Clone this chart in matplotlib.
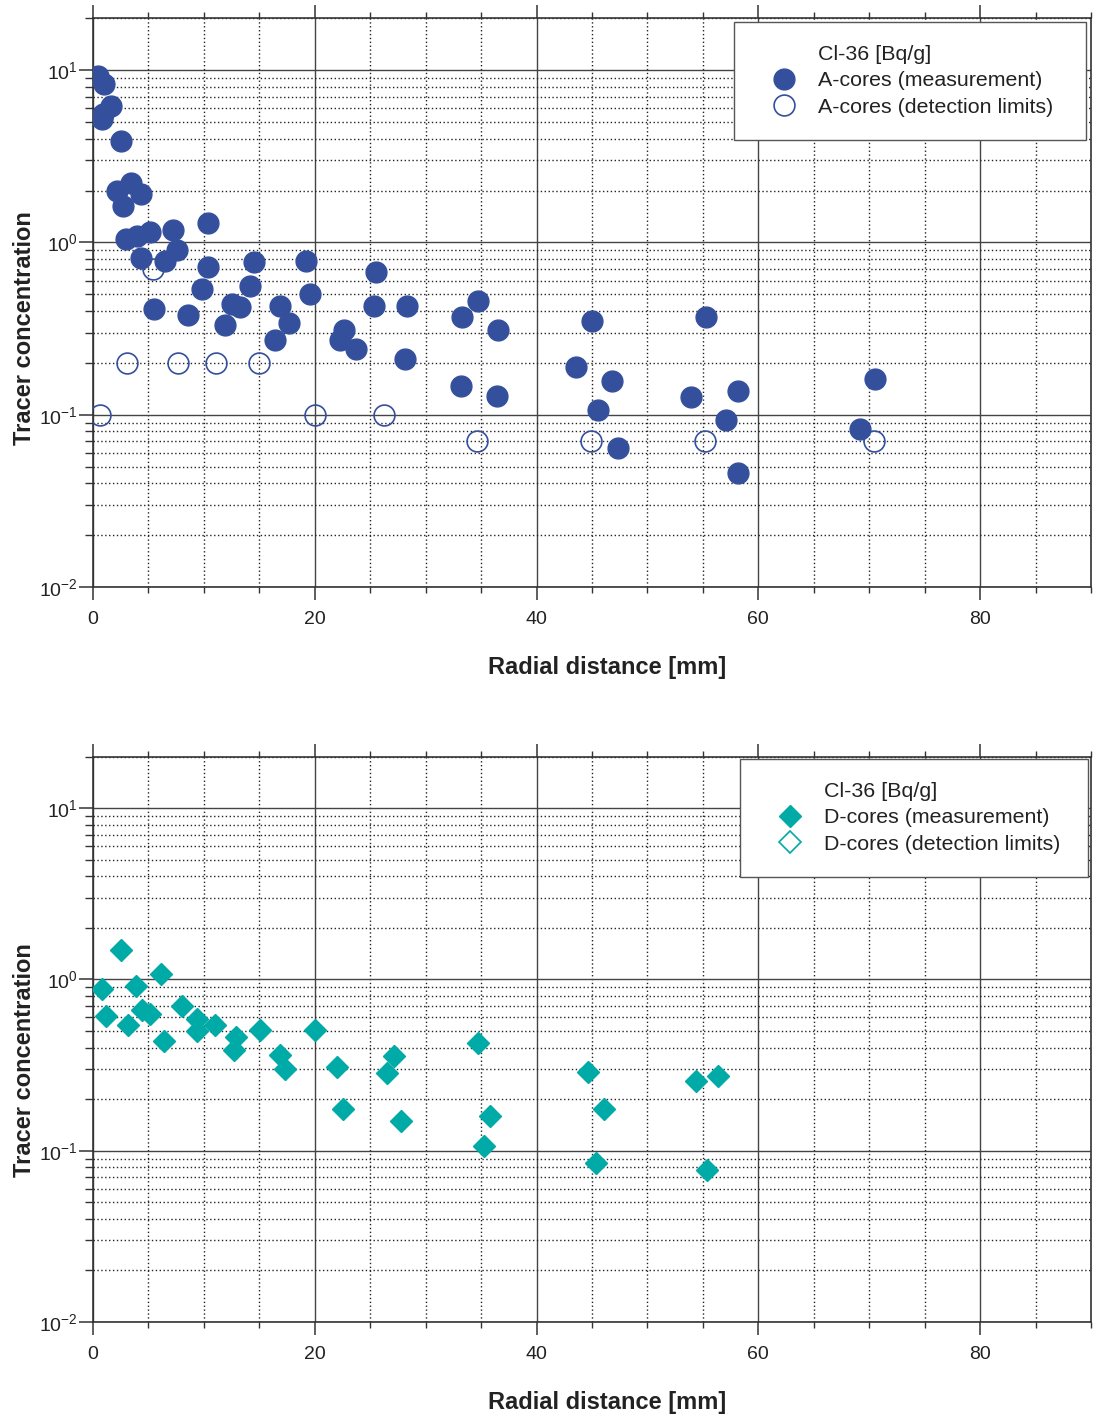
import matplotlib.pyplot as plt
from matplotlib.lines import Line2D
from matplotlib.ticker import MultipleLocator, LogLocator, NullFormatter
import numpy as np

plt.rcParams['font.family'] = ['Liberation Sans', 'DejaVu Sans']
plt.rcParams['mathtext.fontset'] = 'custom'
plt.rcParams['mathtext.rm'] = 'Liberation Sans'
plt.rcParams['mathtext.it'] = 'Liberation Sans:italic'
plt.rcParams['mathtext.bf'] = 'Liberation Sans:bold'

# Cl-36, A-cores: measured values
a_meas_x = [0.45, 1.0, 1.6, 0.9, 0.8, 2.5, 2.2, 3.4, 4.3, 2.7, 3.0, 4.0, 5.1, 7.2,
            10.4, 7.6, 4.3, 6.5, 10.4, 14.5, 19.2, 9.8, 14.2, 19.6, 5.5, 12.5, 13.3,
            8.6, 16.9, 11.9, 17.7, 16.4, 25.5, 25.3, 28.3, 22.6, 22.3, 23.7, 28.1,
            34.7, 33.3, 36.5, 33.2, 36.4, 45.0, 43.6, 46.8, 45.5, 47.3, 55.3, 53.9,
            58.2, 57.1, 58.2, 70.5, 69.2]
a_meas_y = [9.2, 8.3, 6.2, 5.6, 5.2, 3.9, 2.0, 2.2, 1.9, 1.63, 1.05, 1.09, 1.15, 1.18,
            1.30, 0.90, 0.81, 0.78, 0.72, 0.77, 0.78, 0.54, 0.56, 0.50, 0.41, 0.44, 0.42,
            0.38, 0.43, 0.33, 0.34, 0.27, 0.67, 0.43, 0.43, 0.31, 0.27, 0.24, 0.21,
            0.46, 0.37, 0.31, 0.146, 0.129, 0.35, 0.19, 0.156, 0.107, 0.064, 0.37, 0.126,
            0.137, 0.093, 0.046, 0.162, 0.083]

# A-cores: detection limits
a_dl_x = [0.6, 3.1, 5.4, 7.7, 11.1, 15.0, 20.0, 26.2, 34.6, 44.9, 55.2, 70.4]
a_dl_y = [0.1, 0.2, 0.7, 0.2, 0.2, 0.2, 0.1, 0.1, 0.07, 0.07, 0.07, 0.07]

# D-cores: measured values
d_meas_x = [2.5, 6.1, 0.8, 3.9, 1.2, 4.4, 5.1, 3.2, 8.0, 6.4, 9.4, 9.4, 11.0, 15.1,
            20.0, 12.9, 12.7, 16.9, 17.3, 22.0, 22.5, 27.1, 26.5, 27.8, 34.7, 35.8,
            35.3, 44.6, 46.1, 45.4, 54.4, 56.4, 55.4]
d_meas_y = [1.49, 1.07, 0.875, 0.915, 0.61, 0.665, 0.63, 0.545, 0.70, 0.435, 0.585,
            0.50, 0.545, 0.51, 0.51, 0.46, 0.385, 0.36, 0.30, 0.31, 0.176, 0.356,
            0.284, 0.15, 0.425, 0.160, 0.107, 0.288, 0.176, 0.085, 0.254, 0.274, 0.077]

# D-cores: detection limits (none above the measured values)
d_dl_x = []
d_dl_y = []

BLUE = '#34509d'
TEAL = '#00aaa6'
TXT = '#222222'

fig = plt.figure(figsize=(10.93, 14.14), dpi=100)
ax_top = fig.add_axes([0.0851, 0.5849, 0.9131, 0.4021])
ax_bot = fig.add_axes([0.0851, 0.0651, 0.9131, 0.3998])


def style_axes(ax):
    ax.set_yscale('log')
    ax.set_xlim(0, 90)
    ax.set_ylim(0.01, 20)
    ax.xaxis.set_major_locator(MultipleLocator(20))
    ax.xaxis.set_minor_locator(MultipleLocator(5))
    ax.yaxis.set_major_locator(LogLocator(base=10, numticks=10))
    ax.yaxis.set_minor_locator(LogLocator(base=10, subs=np.arange(2, 10), numticks=20))
    ax.yaxis.set_minor_formatter(NullFormatter())
    ax.set_axisbelow(True)
    ax.grid(which='major', color='#444444', linestyle='-', linewidth=1.0)
    ax.grid(which='minor', color='#222222', linestyle=(0, (1, 1.8)), linewidth=1.0)
    for sp in ax.spines.values():
        sp.set_color('#333333')
        sp.set_linewidth(1.2)
    ax.tick_params(axis='x', which='major', direction='out', top=True, length=9.5,
                   width=1.1, pad=8, labelsize=14, labelcolor=TXT, color='#333333')
    ax.tick_params(axis='x', which='minor', direction='out', top=True, length=4.5,
                   width=1.0, color='#333333')
    ax.tick_params(axis='y', which='major', direction='out', right=False, length=10,
                   width=1.1, pad=1, labelsize=14, labelcolor=TXT, color='#333333')
    ax.tick_params(axis='y', which='minor', direction='out', right=False, length=6,
                   width=1.0, color='#333333')
    ax.set_xlabel('Radial distance [mm]', fontsize=17, fontweight='bold', color=TXT)
    ax.set_ylabel('Tracer concentration', fontsize=17, fontweight='bold', color=TXT)
    ax.xaxis.set_label_coords(0.515, -0.122)


def add_legend(ax, handles, labels, bbox):
    leg = ax.legend(handles, labels, loc='upper left', bbox_to_anchor=bbox,
                    mode='expand', borderaxespad=0, fontsize=15.4, frameon=True,
                    fancybox=False, framealpha=1, edgecolor='#555555',
                    borderpad=1.08, labelspacing=0.34, handlelength=2.5,
                    handletextpad=0.33)
    leg.get_frame().set_linewidth(1.0)
    for t in leg.get_texts():
        t.set_color(TXT)
    return leg


# Top panel: A-cores
style_axes(ax_top)
ax_top.plot(a_meas_x, a_meas_y, linestyle='none', marker='o', markersize=15,
            markerfacecolor=BLUE, markeredgecolor=BLUE, zorder=3)
ax_top.plot(a_dl_x, a_dl_y, linestyle='none', marker='o', markersize=15,
            markerfacecolor='none', markeredgecolor=BLUE, markeredgewidth=1.2, zorder=3)
ax_top.yaxis.set_label_coords(-0.057, 0.4556)

title_h = Line2D([], [], linestyle='none', marker='none')
h_a1 = Line2D([], [], linestyle='none', marker='o', markersize=15,
              markerfacecolor=BLUE, markeredgecolor=BLUE)
h_a2 = Line2D([], [], linestyle='none', marker='o', markersize=15,
              markerfacecolor='none', markeredgecolor=BLUE, markeredgewidth=1.2)
add_legend(ax_top, [title_h, h_a1, h_a2],
           ['Cl-36 [Bq/g]', 'A-cores (measurement)', 'A-cores (detection limits)'],
           (0.6423, 0.5, 0.3527, 0.4938))

# Bottom panel: D-cores
style_axes(ax_bot)
ax_bot.plot(d_meas_x, d_meas_y, linestyle='none', marker='D', markersize=11,
            markerfacecolor=TEAL, markeredgecolor=TEAL, zorder=3)
ax_bot.plot(d_dl_x, d_dl_y, linestyle='none', marker='D', markersize=11,
            markerfacecolor='none', markeredgecolor=TEAL, markeredgewidth=1.2, zorder=3)
ax_bot.yaxis.set_label_coords(-0.057, 0.4635)

h_d1 = Line2D([], [], linestyle='none', marker='D', markersize=11,
              markerfacecolor=TEAL, markeredgecolor=TEAL)
h_d2 = Line2D([], [], linestyle='none', marker='D', markersize=11,
              markerfacecolor='none', markeredgecolor=TEAL, markeredgewidth=1.2)
add_legend(ax_bot, [title_h, h_d1, h_d2],
           ['Cl-36 [Bq/g]', 'D-cores (measurement)', 'D-cores (detection limits)'],
           (0.6483, 0.5, 0.3487, 0.4959))

fig.savefig('out.png', dpi=100)
